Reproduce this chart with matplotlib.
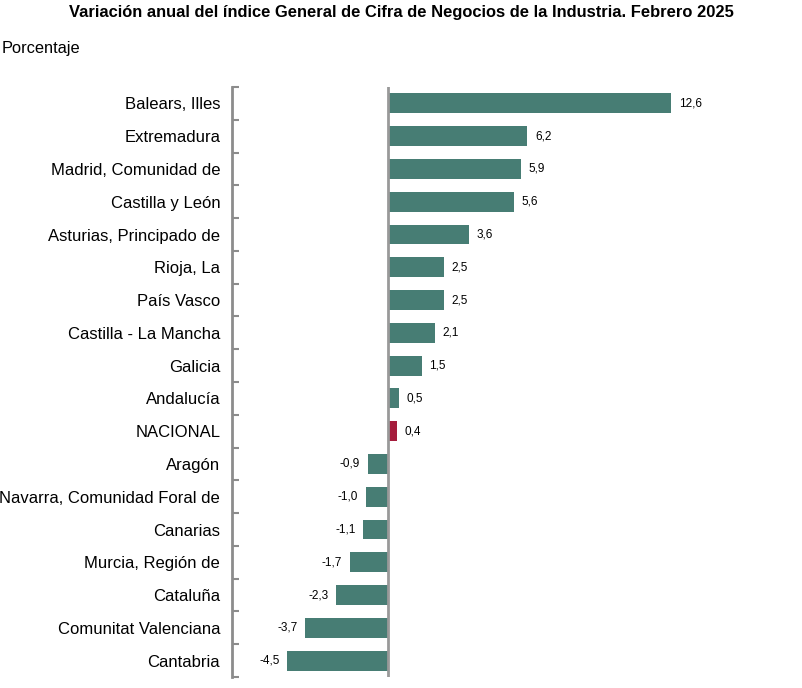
import matplotlib.pyplot as plt

regions = ["Balears, Illes", "Extremadura", "Madrid, Comunidad de", "Castilla y León",
           "Asturias, Principado de", "Rioja, La", "País Vasco", "Castilla - La Mancha",
           "Galicia", "Andalucía", "NACIONAL", "Aragón", "Navarra, Comunidad Foral de",
           "Canarias", "Murcia, Región de", "Cataluña", "Comunitat Valenciana", "Cantabria"]
values = [12.6, 6.2, 5.9, 5.6, 3.6, 2.5, 2.5, 2.1, 1.5, 0.5, 0.4,
          -0.9, -1.0, -1.1, -1.7, -2.3, -3.7, -4.5]

plt.rcParams['font.family'] = ['Liberation Sans', 'DejaVu Sans']

teal = "#477d74"
red = "#a51c3c"
colors = [red if r == "NACIONAL" else teal for r in regions]

fig = plt.figure(figsize=(8.03, 6.88), dpi=100)
# axes from x=232 to 780 px, y=87 to 677 px
ax = fig.add_axes([232 / 803, 1 - 677 / 688, (780 - 232) / 803, (677 - 87) / 688])

ypos = list(range(len(regions)))
ax.barh(ypos, values, height=0.61, color=colors, zorder=2)
ax.set_ylim(len(regions) - 0.5, -0.5)
ax.set_xlim(-6.95, 17.45)

ax.axvline(0, color="#999999", lw=2, zorder=3)

for y, v in zip(ypos, values):
    txt = f"{v:.1f}".replace(".", ",")
    if v >= 0:
        ax.annotate(txt, (v, y), xytext=(5.5, 0), textcoords="offset points",
                    ha="left", va="center", fontsize=8.5)
    else:
        ax.annotate(txt, (v, y), xytext=(-5.5, 0), textcoords="offset points",
                    ha="right", va="center", fontsize=8.5)

for s in ["top", "right", "bottom"]:
    ax.spines[s].set_visible(False)
ax.spines["left"].set_color("#8c8c8c")
ax.spines["left"].set_linewidth(2)

ax.set_yticks(ypos)
ax.set_yticklabels(regions, fontsize=12)
ax.tick_params(axis="y", length=0, pad=8.5)
ax.set_yticks([y - 0.5 for y in range(len(regions) + 1)], minor=True)
ax.tick_params(axis="y", which="minor", direction="in", length=5, width=1.5, color="#8c8c8c")
ax.set_xticks([])

fig.text(0.5, 1 - 13 / 688, "Variación anual del índice General de Cifra de Negocios de la Industria. Febrero 2025",
         ha="center", va="center", fontsize=11.9, fontweight="bold")
fig.text(2 / 803, 1 - 48 / 688, "Porcentaje", ha="left", va="center", fontsize=11.8)

fig.savefig("out.png", dpi=100)
